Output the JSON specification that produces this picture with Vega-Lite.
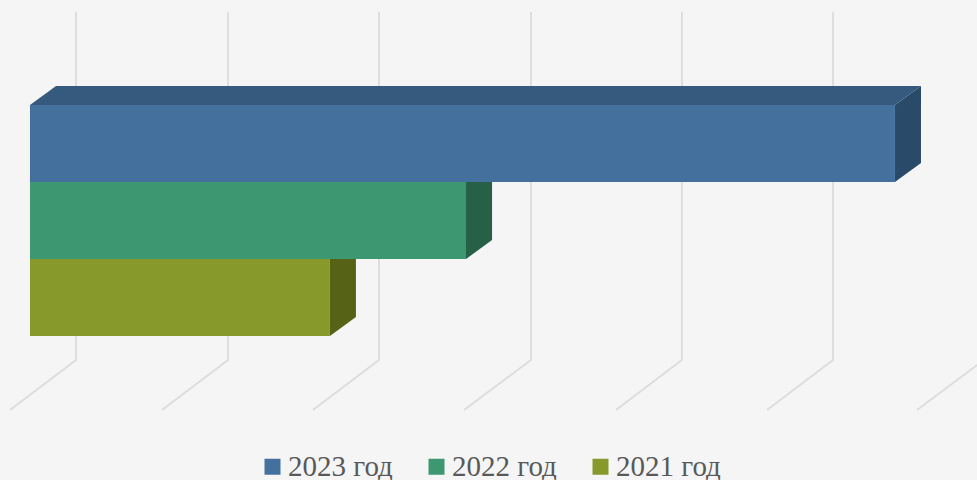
{"$schema":"https://vega.github.io/schema/vega-lite/v6.json","width":977,"height":480,"padding":0,"autosize":{"type":"none"},"background":"#f5f5f5","view":{"stroke":null},"config":{"axis":{"disable":true}},"datasets":{"grid":[{"line":0,"x":0.304,"y":-1.208},{"line":0,"x":0.304,"y":3.312},{"line":0,"x":-0.132,"y":3.961},{"line":1,"x":1.308,"y":-1.208},{"line":1,"x":1.308,"y":3.312},{"line":1,"x":0.872,"y":3.961},{"line":2,"x":2.305,"y":-1.208},{"line":2,"x":2.305,"y":3.312},{"line":2,"x":1.869,"y":3.961},{"line":3,"x":3.309,"y":-1.208},{"line":3,"x":3.309,"y":3.312},{"line":3,"x":2.867,"y":3.961},{"line":4,"x":4.306,"y":-1.208},{"line":4,"x":4.306,"y":3.312},{"line":4,"x":3.87,"y":3.961},{"line":5,"x":5.304,"y":-1.208},{"line":5,"x":5.304,"y":3.312},{"line":5,"x":4.868,"y":3.961},{"line":6,"x":6.301,"y":3.312},{"line":6,"x":5.859,"y":3.961}],"faces":[{"face":"2021 side","x":1.981,"y":2,"y2":3},{"face":"2021 side","x":2.153,"y":1.753,"y2":2.753},{"face":"2022 side","x":2.88,"y":1,"y2":2},{"face":"2022 side","x":3.052,"y":0.753,"y2":1.753},{"face":"2023 side","x":5.713,"y":0,"y2":1},{"face":"2023 side","x":5.885,"y":-0.247,"y2":0.753},{"face":"2023 top","x":0,"y":0,"y2":0},{"face":"2023 top","x":0.172,"y":-0.247,"y2":0},{"face":"2023 top","x":5.713,"y":-0.247,"y2":0},{"face":"2023 top","x":5.885,"y":-0.247,"y2":-0.247}],"bars":[{"series":"2023 год","start":0,"value":5.713,"top":0,"bottom":1},{"series":"2022 год","start":0,"value":2.88,"top":1,"bottom":2},{"series":"2021 год","start":0,"value":1.981,"top":2,"bottom":3}]},"layer":[{"data":{"name":"grid"},"mark":{"type":"line","color":"#dcdcdc","strokeWidth":1.8,"clip":true},"encoding":{"x":{"field":"x","type":"quantitative","scale":{"domain":[-0.198,6.255],"nice":false,"zero":false},"axis":null},"y":{"field":"y","type":"quantitative","scale":{"domain":[4.87,-1.3636],"nice":false,"zero":false},"axis":null},"detail":{"field":"line"},"order":{"field":"y"}}},{"data":{"name":"faces"},"mark":{"type":"area","orient":"vertical","clip":true},"encoding":{"x":{"field":"x","type":"quantitative"},"y":{"field":"y","type":"quantitative"},"y2":{"field":"y2"},"color":{"field":"face","type":"nominal","legend":null,"scale":{"domain":["2023 top","2023 side","2022 side","2021 side"],"range":["#365a7e","#2a4a6a","#256047","#566316"]}}}},{"data":{"name":"bars"},"mark":{"type":"rect"},"encoding":{"x":{"field":"start","type":"quantitative"},"x2":{"field":"value"},"y":{"field":"top","type":"quantitative"},"y2":{"field":"bottom"},"color":{"field":"series","type":"nominal","sort":null,"scale":{"domain":["2023 год","2022 год","2021 год"],"range":["#44709e","#3d9770","#86992a"]},"legend":{"title":null,"orient":"none","legendX":258,"legendY":452,"direction":"horizontal","columns":3,"symbolType":"square","symbolSize":256,"symbolStrokeWidth":0,"symbolOpacity":1,"labelFont":"Liberation Serif","labelFontSize":29,"labelColor":"#595959","labelOffset":1,"columnPadding":29,"padding":0}}}}],"resolve":{"scale":{"color":"independent"}}}
